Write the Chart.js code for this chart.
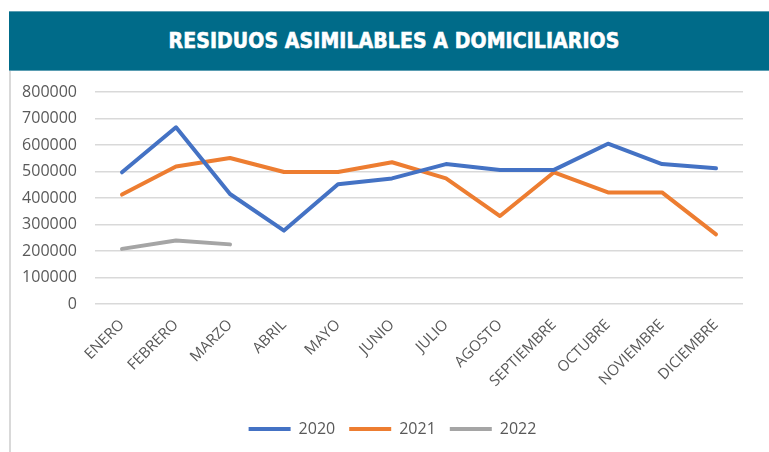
<!DOCTYPE html>
<html>
<head>
<meta charset="utf-8">
<script src="https://cdn.jsdelivr.net/npm/chart.js@4/dist/chart.umd.min.js"></script>
<style>
   html, body { margin: 0; padding: 0; background: #fff; }
   body { width: 769px; height: 452px; position: relative; overflow: hidden; }
   #banner {
      position: absolute; left: 9px; top: 11px; width: 770px; height: 60px;
      background: #006b89; border-top: 1px solid #5a9db2; border-bottom: 1px solid #5a9db2;
      box-sizing: border-box;
      color: #fff; text-align: center; line-height: 58px;
      font-family: "DejaVu Sans Condensed", "DejaVu Sans", sans-serif; font-stretch: condensed;
      font-weight: bold; font-size: 21px; letter-spacing: 0.1px;
      -webkit-text-stroke: 0.6px #fff;
   }
   #frame { position: absolute; left: 9px; top: 71px; width: 2px; height: 381px; background: #d9d9d9; }
   #wrap { position: absolute; left: 0; top: 0; width: 769px; height: 452px; }
</style>
</head>
<body>
<div id="wrap"><canvas id="chart"></canvas></div>
<div id="banner">RESIDUOS ASIMILABLES A DOMICILIARIOS</div>
<div id="frame"></div>
<script>
const months = ["ENERO", "FEBRERO", "MARZO", "ABRIL", "MAYO", "JUNIO", "JULIO", "AGOSTO",
   "SEPTIEMBRE", "OCTUBRE", "NOVIEMBRE", "DICIEMBRE"];
const values2020 = [497000, 667000, 415000, 277000, 452000, 474000, 528000, 506000, 506000, 605000, 528000, 512000];
const values2021 = [413000, 519000, 551000, 498000, 498000, 535000, 474000, 332000, 497000, 421000, 421000, 263000];
const values2022 = [208000, 240000, 225000];
const yTicks = [0, 100000, 200000, 300000, 400000, 500000, 600000, 700000, 800000];

const gray = "#595959";

function series(label, data, color) {
   return {
      label: label,
      data: data,
      borderColor: color,
      backgroundColor: color,
      borderWidth: 4,
      borderCapStyle: "round",
      borderJoinStyle: "round",
      pointRadius: 0,
      pointHoverRadius: 0,
      tension: 0,
      fill: false,
   };
}

// the legend sits a bit right of the canvas centre in the original
const shiftLegend = {
   id: "shiftLegend",
   afterLayout(chart) {
      if (chart.legend) {
         chart.legend.left += 16;
         chart.legend.right += 16;
      }
   },
};

new Chart(document.getElementById("chart"), {
   type: "line",
   data: {
      labels: months,
      datasets: [
         series("2020", values2020, "#4472c4"),
         series("2021", values2021, "#ed7d31"),
         series("2022", values2022, "#a5a5a5"),
      ],
   },
   options: {
      responsive: true,
      maintainAspectRatio: false,
      animation: false,
      layout: { padding: { left: 10, right: 26, top: 92, bottom: 5 } },
      scales: {
         x: {
            offset: true,
            grid: { display: false, drawTicks: false },
            border: { display: false },
            ticks: {
               color: gray,
               font: { family: "Open Sans", size: 15 },
               maxRotation: 45,
               minRotation: 45,
               autoSkip: false,
               padding: 12,
            },
            afterFit: (scale) => { scale.height = 103; },
         },
         y: {
            min: 0,
            max: 800000,
            afterBuildTicks: (scale) => { scale.ticks = yTicks.map((v) => ({ value: v })); },
            grid: { color: "#d9d9d9", lineWidth: 1.5, drawTicks: false },
            border: { display: false },
            ticks: {
               color: gray,
               font: { family: "Open Sans", size: 16 },
               padding: 18,
               callback: (value) => String(value),
            },
            afterFit: (scale) => { scale.width = 85; },
         },
      },
      plugins: {
         legend: {
            position: "bottom",
            labels: {
               color: gray,
               font: { family: "Open Sans", size: 16 },
               usePointStyle: true,
               pointStyle: "line",
               pointStyleWidth: 42,
               padding: 14,
            },
         },
         tooltip: { enabled: false },
      },
   },
   plugins: [shiftLegend],
});
</script>
</body>
</html>
